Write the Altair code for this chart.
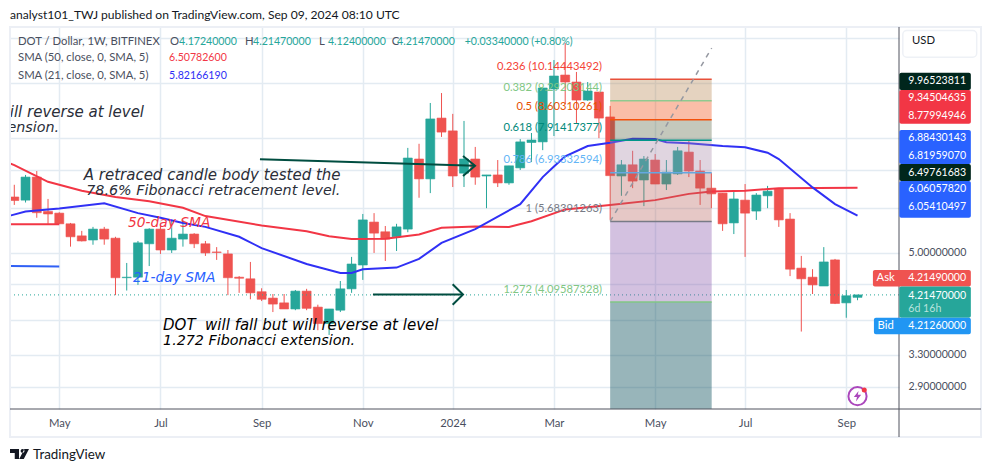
import altair as alt
import pandas as pd

opens = [6.28,6.20,6.81,5.92,5.88,5.63,5.36,5.27,5.51,5.31,4.52,4.53,5.19,5.51,5.06,5.29,5.40,5.19,5.02,4.98,
         4.53,4.50,4.27,4.16,4.08,3.98,4.28,4.01,3.75,3.96,4.32,4.76,5.67,5.45,5.34,5.51,7.33,6.76,8.66,8.22,
         6.92,7.33,6.84,6.87,6.65,7.07,7.84,7.86,9.75,10.32,10.03,9.32,9.63,8.70,6.84,7.16,6.73,7.30,6.62,6.90,
         7.54,6.98,6.51,6.38,5.65,6.20,5.93,6.31,6.49,5.74,4.70,4.53,4.37,4.86,4.08,4.1724]
highs = [6.60,6.87,6.98,6.23,5.90,5.65,5.47,5.56,5.56,5.34,4.80,5.25,5.53,5.58,5.72,5.72,5.42,5.25,5.12,5.06,
         4.55,4.82,4.33,4.23,4.23,4.30,4.32,4.05,3.98,4.46,4.92,5.86,5.88,5.58,5.63,7.67,7.80,9.21,9.59,8.81,
         8.56,7.70,6.87,7.30,7.13,7.95,8.15,9.79,10.97,11.76,10.45,10.03,9.63,9.10,7.30,7.58,7.42,7.48,7.30,7.70,
         7.89,7.30,6.92,6.38,6.46,6.62,6.38,6.57,6.49,5.88,4.94,4.68,5.12,4.88,4.30,4.2147]
lows = [6.08,6.14,5.77,5.63,5.63,5.13,5.24,5.17,5.17,4.21,4.29,4.39,4.74,4.98,5.00,5.13,5.10,4.94,4.86,4.21,
        4.25,4.14,4.11,3.93,3.98,3.96,3.96,3.65,3.58,3.93,4.25,4.48,5.00,4.84,5.04,5.44,6.26,6.38,8.02,6.54,
        6.54,6.60,6.00,6.54,6.60,7.01,7.24,7.60,8.05,9.17,8.46,9.29,7.98,5.72,6.31,6.51,6.05,6.62,6.46,6.87,
        6.81,6.08,6.00,5.47,5.40,4.92,5.72,6.00,5.56,4.55,3.63,4.23,4.37,4.06,3.84,4.124]
closes = [6.19,6.81,5.89,5.86,5.63,5.34,5.25,5.51,5.29,4.52,4.53,5.21,5.51,5.06,5.31,5.40,5.19,5.00,5.01,4.52,
          4.51,4.25,4.14,4.06,3.98,4.28,3.99,3.75,3.98,4.32,4.78,5.72,5.42,5.29,5.56,7.36,6.76,8.63,8.18,6.84,
          7.33,6.81,6.87,6.65,7.13,7.86,7.92,9.79,10.28,10.03,9.32,9.67,8.66,6.85,7.16,6.70,7.33,6.62,6.95,7.58,
          6.98,6.51,6.36,5.63,6.23,5.88,6.33,6.43,5.72,4.68,4.50,4.39,4.82,4.07,4.20,4.2147]

sma50_weeks = [-0.38,0,3,6,9,12,15,17,22,26,28,30,33,36,38,41,44,46,49,53,57,60,62,65,68,75]
sma50_vals = [7.20,7.15,6.68,6.44,6.28,6.17,6.01,5.81,5.59,5.46,5.35,5.29,5.30,5.39,5.54,5.57,5.56,5.69,5.97,6.08,6.20,6.36,6.42,6.44,6.51,6.52]
sma21_weeks = [-0.38,1,4,8,11,13,15,17,20,22,26,29,30,31,34,36,38,41,45,47,48,49,51,53,55,57,58,60,63,65,67,68,71,73,75]
sma21_vals = [5.82,5.92,5.99,6.12,5.88,5.77,5.65,5.56,5.34,5.10,4.78,4.61,4.61,4.68,4.71,4.88,5.21,5.51,6.10,6.81,7.11,7.41,7.73,7.83,7.96,7.95,7.85,7.82,7.73,7.69,7.52,7.33,6.53,6.10,5.82]

fib_levels = [10.14443492,9.29203144,8.60310261,7.91417377,6.93332594,5.68391263,4.09587328]
fib_names = ["0.236","0.382","0.5","0.618","0.786","1","1.272"]
fib_line_colors = ["#e8503a","#8fc98f","#f4510b","#00968a","#64a8e0","#787b86","#81c784"]
fib_label_colors = ["#f44336","#81c784","#e65100","#00897b","#64b5f6","#787b86","#81c784"]
band_colors = ["#b5814b","#f14506","#566240","#a687a6","#b8625c","#814ea6","#0a4f5b"]
band_opacity = [0.35,0.35,0.35,0.35,0.35,0.35,0.42]

tick_weeks = [4,13,22,31,39,48,57,65,74]
tick_labels = ["May","Jul","Sep","Nov","2024","Mar","May","Jul","Sep"]
grid_prices = [12,10,8,7,6,5,4.4,3.8,3.3,2.9]
label_prices = [5,3.3,2.9]
X_DOM = [-0.382,78.69]
Y_DOM = [2.648,12.55]
WEEK_FIB0, WEEK_FIB1 = 53, 62.03

LABEL = "#4a4f5e"
FONT = "Lato"
SMALL = 11.3
NUM = 10.6
GRID = "#e3ebf2"
axis_x = alt.Axis(values=tick_weeks, grid=True, gridColor=GRID, gridWidth=1.5, ticks=False, domain=False,
    labelExpr="%s[indexof(%s,datum.value)]" % (tick_labels, tick_weeks), labelFont=FONT, labelFontSize=SMALL,
    labelColor=LABEL, labelPadding=8, title=None, labelOverlap=False)
axis_y = alt.Axis(orient="right", values=grid_prices, grid=True, gridColor=GRID, gridWidth=1.5, ticks=False, domain=False,
    labelExpr="indexof(%s,datum.value)>=0?format(datum.value,'.8f'):''" % label_prices,
    labelFont=FONT, labelFontSize=NUM, labelColor=LABEL, labelPadding=9, title=None, labelOverlap=False)

xs = alt.Scale(domain=X_DOM, nice=False, zero=False)
ys = alt.Scale(type="log", domain=Y_DOM, nice=False)
def X(f, **k): return alt.X(f, type="quantitative", scale=xs, axis=axis_x, title=None, **k)
def Y(f, **k): return alt.Y(f, type="quantitative", scale=ys, axis=axis_y, title=None, **k)

UP, DOWN = "#26a69a", "#ef5350"
week = list(range(len(opens)))
cd = pd.DataFrame({"w":week,"o":opens,"h":highs,"l":lows,"c":closes})
cd["col"] = [UP if c>=o else DOWN for o,c in zip(opens,closes)]
cd["w0"] = cd.w-0.4
cd["w1"] = cd.w+0.4

colr = alt.Color("col:N", scale=None)
wick = alt.Chart(cd).mark_rule(strokeWidth=1).encode(x=X("w"), y=Y("l"), y2="h:Q", color=colr)
body = alt.Chart(cd).mark_rect(strokeWidth=0.6).encode(
    x=X("w0"), x2="w1:Q", y=Y("o"), y2="c:Q", color=colr, stroke=alt.Stroke("col:N", scale=None))

def line(w, v, color, width=2, **kw):
    df = pd.DataFrame({"w":w,"v":v,"n":list(range(len(w)))})
    return alt.Chart(df).mark_line(color=color, strokeWidth=width, clip=True, interpolate="linear", **kw).encode(
        x=X("w"), y=Y("v"), order=alt.Order("n:Q"))

sma50 = line(sma50_weeks, sma50_vals, "#f23645")
sma21 = line(sma21_weeks, sma21_vals, "#3030f5")
stray_red = line([-0.38,4], [5.62,5.62], "#f23645")
stray_blue = line([-0.38,4], [4.74,4.73], "#3060f5")
lastline = alt.Chart(pd.DataFrame({"w":[X_DOM[0],X_DOM[1]],"v":[4.2147,4.2147]})).mark_line(color=UP, strokeWidth=1, strokeDash=[1,3]).encode(x=X("w"),y=Y("v"))

band_top = fib_levels
band_bot = fib_levels[1:]+[Y_DOM[0]]
bands = alt.Chart(pd.DataFrame({"a":[WEEK_FIB0]*7,"b":[WEEK_FIB1]*7,"t":band_top,"u":band_bot,"col":band_colors,"op":band_opacity})).mark_rect().encode(
    x=X("a"), x2="b:Q", y=Y("t"), y2="u:Q", color=colr, opacity=alt.Opacity("op:Q", scale=None))
fibl = alt.Chart(pd.DataFrame({"a":[WEEK_FIB0]*7,"b":[WEEK_FIB1]*7,"t":fib_levels,"col":fib_line_colors})).mark_rule(strokeWidth=1.5).encode(
    x=X("a"), x2="b:Q", y=Y("t"), color=colr)
trend = line([WEEK_FIB0,WEEK_FIB1],[5.684,11.52],"#9598a1",1.5,strokeDash=[5,5])
fib_txt = alt.Chart(pd.DataFrame({"w":[52.27]*7,"v":fib_levels,
    "t":["%s (%.8f)"%(n,v) for n,v in zip(fib_names,fib_levels)],"col":fib_label_colors})).mark_text(
    align="right", baseline="middle", dy=-12.3, font=FONT, fontSize=11.2).encode(x=X("w"),y=Y("v"),text="t:N",color=colr)

arrow_col = "#004d40"
arrows = [line([21.85,40.98],[7.32,7.13],arrow_col,2),
          line([39.91,40.98,39.91],[7.42,7.13,6.84],arrow_col,2),
          line([31.9,39.91],[4.22,4.22],arrow_col,2),
          line([38.99,39.91,38.99],[4.40,4.22,4.05],arrow_col,2)]

def text(rows, **kw):
    df = pd.DataFrame(rows, columns=["w","v","t","col"])
    return alt.Chart(df).mark_text(baseline="middle", **kw).encode(x=X("w"),y=Y("v"),text="t:N",color=colr)

NOTE = dict(font="DejaVu Sans", fontStyle="italic", fontSize=15)
NOTE3 = dict(font="DejaVu Sans", fontStyle="italic", fontSize=14.3)
NOTE2 = dict(font="DejaVu Sans", fontStyle="italic", fontSize=13.8)
dark = "#2a2e39"
DOT_LINE = "DOT\u00a0 will fall but will reverse at level"
notes = [
    text([[17.6,6.87,"A retraced candle body tested the",dark]], align="center", **NOTE),
    text([[17.7,6.44,"78.6% Fibonacci retracement level.",dark]], align="center", **NOTE3),
    text([[10.11,5.65,"50-day SMA","#f23645"],[10.56,4.52,"21-day SMA","#2962ff"]], align="left", **NOTE2),
    text([[13.23,3.73,DOT_LINE,"#000000"]], align="left", **NOTE),
    text([[13.23,3.50,"1.272 Fibonacci extension.","#000000"]], align="left", **NOTE3),
    text([[11.54,8.89,DOT_LINE,dark]], align="right", clip=True, **NOTE),
    text([[3.98,8.32,"1.272 Fibonacci extension.",dark]], align="right", clip=True, **NOTE3),
]

G = "#4a4f5e"; T = "#26a69a"
LEG = dict(font=FONT, fontSize=SMALL)
LNUM = dict(font=FONT, fontSize=NUM)
legend = text([
    [0.33,11.82,"DOT / Dollar, 1W, BITFINEX",G],[13.85,11.82,"O",G],[20.52,11.82,"H",G],[27.10,11.82,"L",G],[33.57,11.82,"C",G],
    [0.33,11.04,"SMA (50, close, 0, SMA, 5)",G],[0.33,10.30,"SMA (21, close, 0, SMA, 5)",G],
], align="left", **LEG)
legend_num = text([
    [14.65,11.82,"4.17240000",T],[21.23,11.82,"4.21470000",T],[27.9,11.82,"4.12400000",T],
    [34.04,11.82,"4.21470000",T],[40.06,11.82,"+0.03340000 (+0.80%)",T],
    [13.76,11.04,"6.50782600","#f23645"],[13.76,10.30,"5.82166190","#2e2ef5"],
], align="left", **LNUM)

# price scale tags
TAG0, TAG1, TAGX = 78.72, 85.08, 79.52
rows = [[TAG0,TAG1,10.42,9.71,"#00261c"],[TAG0,TAG1,9.71,8.46,"#f23645"],[TAG0,TAG1,8.25,7.18,"#2962ff"],
        [TAG0,TAG1,7.18,6.70,"#00261c"],[TAG0,TAG1,6.70,5.77,"#2962ff"],[76.37,TAG1,4.665,4.36,"#ef5350"],
        [TAG0,TAG1,4.36,3.84,"#26a69a"],[76.46,TAG1,3.84,3.59,"#2196f3"]]
tags = alt.Chart(pd.DataFrame(rows,columns=["a","b","t","u","col"])).mark_rect(cornerRadius=2).encode(x=X("a"),x2="b:Q",y=Y("t"),y2="u:Q",color=colr)
W="#ffffff"
tag_txt = text([[TAGX,10.07,"9.96523811",W],[TAGX,9.39,"9.34504635",W],[TAGX,8.75,"8.77994946",W],
    [TAGX,7.98,"6.88430143",W],[TAGX,7.43,"6.81959070",W],[TAGX,6.935,"6.49761683",W],
    [TAGX,6.48,"6.06057820",W],[TAGX,6.04,"6.05410497",W],[TAGX,4.51,"4.21490000",W],
    [TAGX,4.20,"4.21470000",W],[TAGX,3.98,"6d 16h","#b7e3dd"],[TAGX,3.71,"4.21260000",W]], align="left", **LNUM)
tag_side = text([[77.5,4.51,"Ask",W],[77.5,3.71,"Bid",W]], align="center", **LEG)

usd_box = alt.Chart(pd.DataFrame({"a":[79.03],"b":[85.6],"t":[12.37],"u":[11.10]})).mark_rect(
    fill="#ffffff", stroke="#eef1f6", strokeWidth=1.5, cornerRadius=4).encode(x=X("a"),x2="b:Q",y=Y("t"),y2="u:Q")
usd = text([[79.85,11.85,"USD","#131722"]], align="left", font=FONT, fontSize=SMALL)

# chrome
frame = alt.Chart(pd.DataFrame({"k":[0]})).mark_rect(fillOpacity=0, stroke="#eceff5", strokeWidth=2).encode(
    x=alt.value(0), x2=alt.value(971), y=alt.value(0), y2=alt.value(410))
axline_x = alt.Chart(pd.DataFrame({"k":[0]})).mark_rule(color="#50535e", strokeWidth=1).encode(
    x=alt.value(0), x2=alt.value(971), y=alt.value(382))
axline_y = alt.Chart(pd.DataFrame({"k":[0]})).mark_rule(color="#50535e", strokeWidth=1).encode(
    x=alt.value(889), y=alt.value(0), y2=alt.value(410))
header = alt.Chart(pd.DataFrame({"t":["analyst101_TWJ published on TradingView.com, Sep 09, 2024 08:10 UTC"]})).mark_text(
    align="left", baseline="middle", font=FONT, fontSize=12.1, color="#131722").encode(x=alt.value(0), y=alt.value(-12.5), text="t:N")
footer = alt.Chart(pd.DataFrame({"t":["TradingView"]})).mark_text(
    align="left", baseline="middle", font=FONT, fontSize=13.4, color="#131722").encode(x=alt.value(23), y=alt.value(427.5), text="t:N")
logo_path = ("M-1,-.53L-.05,-.53L-.05,.53L-.5,.53L-.5,-.1L-1,-.1Z"
             "M.12,-.32a.2,.2 0 1,0 .4,0a.2,.2 0 1,0 -.4,0Z"
             "M1,-.53L.45,.53L-.03,.53L.52,-.53Z")
logo = alt.Chart(pd.DataFrame({"k":[0]})).mark_point(shape=logo_path, filled=True, fill="#131722", opacity=1, size=361, strokeWidth=0).encode(
    x=alt.value(9.5), y=alt.value(427))
bolt_path = "M.2,-1L-.7,.15L-.1,.15L-.3,1L.7,-.25L.05,-.25Z"
ring = alt.Chart(pd.DataFrame({"w":[75],"v":[2.79]})).mark_point(shape="circle", color="#ab47bc", strokeWidth=2, size=330, filled=False, opacity=1).encode(x=X("w"),y=Y("v"))
bolt = alt.Chart(pd.DataFrame({"w":[75],"v":[2.79]})).mark_point(shape=bolt_path, filled=True, fill="#ab47bc", strokeWidth=0, size=110, opacity=1).encode(x=X("w"),y=Y("v"))
dot = alt.Chart(pd.DataFrame({"w":[75.6],"v":[2.86]})).mark_point(shape="circle", filled=True, fill="#f23645", strokeWidth=0, size=25, opacity=1).encode(x=X("w"),y=Y("v"))

chart = alt.layer(
    wick, body, stray_red, stray_blue, sma50, sma21, lastline, bands, fibl, trend, *arrows, *notes, fib_txt, legend, legend_num,
    frame, axline_x, axline_y, tags, tag_txt, tag_side, usd_box, usd, ring, bolt, dot, header, footer, logo
).properties(width=889, height=382, padding={"left":2,"top":19,"right":84,"bottom":55},
    autosize=alt.AutoSizeParams(type="none"), background="#ffffff"
).configure_view(strokeWidth=0)

chart.save("out.html", embed_options={"renderer": "svg", "actions": False})
